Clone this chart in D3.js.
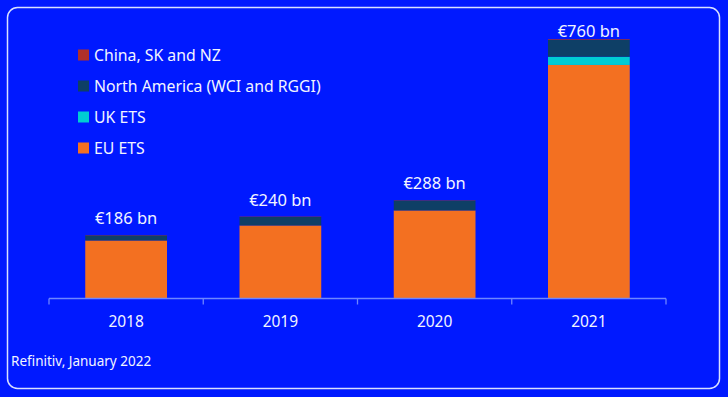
<!DOCTYPE html>
<html><head><meta charset="utf-8">
<script src="https://cdn.jsdelivr.net/npm/d3@7"></script>
<style>
html,body{margin:0;padding:0;background:#0019FF;}
svg{display:block;font-family:"Noto Sans",sans-serif;}
</style></head>
<body>
<svg id="chart" width="728" height="397"></svg>
<script>
const years = ["2018","2019","2020","2021"];
const seriesNames = ["EU ETS","UK ETS","North America (WCI and RGGI)","China, SK and NZ"];
const euEts = [170, 214, 258, 684];
const ukEts = [0, 0, 0, 24];
const northAmerica = [15, 25, 29, 50];
const chinaSkNz = [1, 1, 1, 2];
const totalLabels = ["€186 bn","€240 bn","€288 bn","€760 bn"];
const colors = ["#F37021","#00CCD3","#0E3F66","#B0302A"];
const legendOrder = ["China, SK and NZ","North America (WCI and RGGI)","UK ETS","EU ETS"];
const source = "Refinitiv, January 2022";

const svg = d3.select("#chart");
const W = 728, H = 397;
svg.append("rect").attr("x",0).attr("y",0).attr("width",W).attr("height",H).attr("fill","#0019FF");
svg.append("rect").attr("x",7.5).attr("y",7.5).attr("width",712).attr("height",381)
  .attr("rx",10).attr("fill","none").attr("stroke","#D8E0FF").attr("stroke-width",1.5);

const x = d3.scaleBand().domain(years).range([49,666]).paddingInner(0.47).paddingOuter(0.235);
const y = d3.scaleLinear().domain([0,760]).range([298.5,39]);

const data = years.map((yr,i)=>({year:yr, "EU ETS":euEts[i], "UK ETS":ukEts[i],
  "North America (WCI and RGGI)":northAmerica[i], "China, SK and NZ":chinaSkNz[i], label: totalLabels[i]}));
const stack = d3.stack().keys(seriesNames)(data);
const color = d3.scaleOrdinal().domain(seriesNames).range(colors);

svg.append("g").selectAll("g").data(stack).join("g").attr("fill",d=>color(d.key))
  .selectAll("rect").data(d=>d).join("rect")
  .attr("x",d=>x(d.data.year)).attr("width",x.bandwidth())
  .attr("y",d=>y(d[1])).attr("height",d=>Math.max(0,y(d[0])-y(d[1])));

// axis
const axisG = svg.append("g").attr("transform","translate(0,298.5)");
const tickXs = [49].concat(years.map(yr=>x(yr)+x.bandwidth()+ (x.step()*x.paddingInner())/2));
axisG.append("line").attr("x1",49).attr("x2",666).attr("y1",0).attr("y2",0).attr("stroke","#6E86FF").attr("stroke-width",1.3);
axisG.selectAll("line.tk").data(tickXs).join("line").attr("class","tk")
  .attr("x1",d=>d).attr("x2",d=>d).attr("y1",0).attr("y2",6).attr("stroke","#6E86FF").attr("stroke-width",1.3);
axisG.selectAll("text").data(years).join("text")
  .attr("x",d=>x(d)+x.bandwidth()/2).attr("y",28.5).attr("text-anchor","middle")
  .attr("fill","#F2F4FF").attr("font-size",15.5).text(d=>d);

// totals
svg.append("g").selectAll("text").data(data).join("text")
  .attr("x",d=>x(d.year)+x.bandwidth()/2)
  .attr("y",(d,i)=>Math.max(y(euEts[i]+ukEts[i]+northAmerica[i]+chinaSkNz[i])-11, 36.5))
  .attr("text-anchor","middle").attr("fill","#F2F4FF").attr("font-size",16.5).text(d=>d.label);

// legend
const lg = svg.append("g").selectAll("g").data(legendOrder).join("g")
  .attr("transform",(d,i)=>`translate(78,${55+i*31})`);
lg.append("rect").attr("x",0).attr("y",-5.5).attr("width",11).attr("height",11).attr("fill",d=>color(d));
lg.append("text").attr("x",16).attr("y",5.8).attr("fill","#F2F4FF").attr("font-size",15.8).text(d=>d);

svg.append("text").attr("x",11).attr("y",366).attr("fill","#F2F4FF").attr("font-size",13.5).text(source);
</script>
</body></html>
